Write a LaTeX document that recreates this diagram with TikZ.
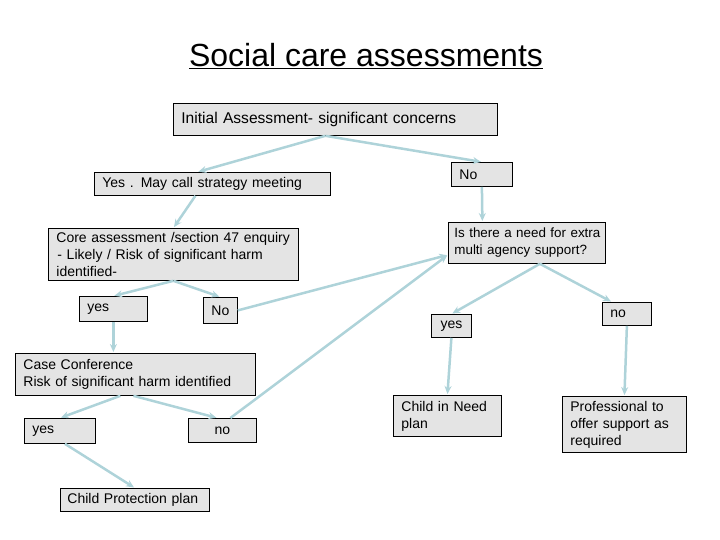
\documentclass[tikz,border=0pt]{standalone}
\usepackage{fontspec}
\setmainfont{Liberation Sans}
\usetikzlibrary{arrows.meta,positioning}
\definecolor{boxfill}{HTML}{E4E4E4}
\definecolor{arr}{HTML}{AED3D9}
\tikzset{
  >={Stealth[length=8pt,width=7pt]},
  box/.style={draw=black, line width=0.8pt, fill=boxfill, anchor=north west, inner xsep=8pt,
              inner ysep=2pt, align=left, font=\fontsize{14}{17}\selectfont},
  cbox/.style={box, align=center, inner xsep=4pt},
  ttl/.style={font=\fontsize{32}{36}\selectfont},
  l/.style={->, line width=2.5pt, draw=arr, shorten >=1pt},
}

\begin{document}
\begin{tikzpicture}[x=1pt,y=-1pt]
  \useasboundingbox (0,0) rectangle (720,540);
  \node[ttl] (title) at (366,56) {\underline{Social care assessments}};
  % left branch
  \node[box,text width=308pt,minimum height=32pt,font=\fontsize{15.6}{17}\selectfont] (init) at (173,103) {Initial Assessment- significant concerns};
  \node[box,text width=220pt,minimum height=23pt] (ym) at (94,172) {Yes . May call strategy meeting};
  \node[box,text width=234pt,minimum height=52pt] (core) at (48,228) {Core assessment /section 47 enquiry\\\hspace{1pt}- Likely / Risk of significant harm\\identified-};
  \node[box,text width=52pt,minimum height=25pt] (yes1) at (79,296) {yes};
  \node[cbox,minimum width=34pt,minimum height=26pt] (noA) at (203,297) {No};
  \node[box,text width=224pt,minimum height=42pt] (cc) at (15,353) {Case Conference\\Risk of significant harm identified};
  \node[box,text width=55pt,minimum height=25pt] (yes2) at (24,418) {yes};
  \node[cbox,minimum width=68pt,minimum height=24pt] (noB) at (188,418) {no};
  \node[box,text width=135pt,minimum height=23pt,inner xsep=7pt] (cp) at (60,488) {Child Protection plan};
  % right branch
  \node[box,text width=145pt,minimum height=41pt,inner xsep=6pt,font=\fontsize{13.4}{17}\selectfont] (need) at (448,222) {\mbox{Is there a need for extra}\\multi agency support?};
  \node[box,text width=45pt,minimum height=24pt] (no1) at (451,162) {No};
  \node[cbox,minimum width=40pt,minimum height=23pt] (yes3) at (431,314) {yes};
  \node[box,text width=33pt,minimum height=23pt] (no3) at (602,302) {no};
  \node[box,text width=92pt,minimum height=41pt] (cin) at (393,395) {Child in Need\\plan};
  \node[box,text width=108pt,minimum height=56pt] (prof) at (562,396) {Professional to\\offer support as\\required};

  \draw[l] ([xshift=-10pt]init.south) -- ([xshift=-15pt]ym.north);
  \draw[l] ([xshift=-10pt]init.south) -- (no1.north);
  \draw[l] (no1.south) -- ([xshift=-44.5pt]need.north);
  \draw[l] ([xshift=-17pt]ym.south) -- (core.north);
  \draw[l] (core.south) -- (yes1.north);
  \draw[l] (core.south) -- (noA.north);
  \draw[l] (noA.east) -- ([yshift=-12pt]need.west);
  \draw[l] (yes1.south) -- ([xshift=-22pt]cc.north);
  \draw[l] ([xshift=-15pt]cc.south) -- (yes2.north);
  \draw[l] ([xshift=-2pt]cc.south) -- ([xshift=-5pt]noB.north);
  \draw[l] ([xshift=8pt]noB.north) -- ([yshift=-12pt]need.west);
  \draw[l] ([xshift=5pt]yes2.south) -- (cp.north);
  \draw[l] ([xshift=13pt]need.south) -- (yes3.north);
  \draw[l] ([xshift=13pt]need.south) -- ([xshift=-15pt]no3.north);
  \draw[l] (yes3.south) -- (cin.north);
  \draw[l] (no3.south) -- (prof.north);
\end{tikzpicture}
\end{document}
